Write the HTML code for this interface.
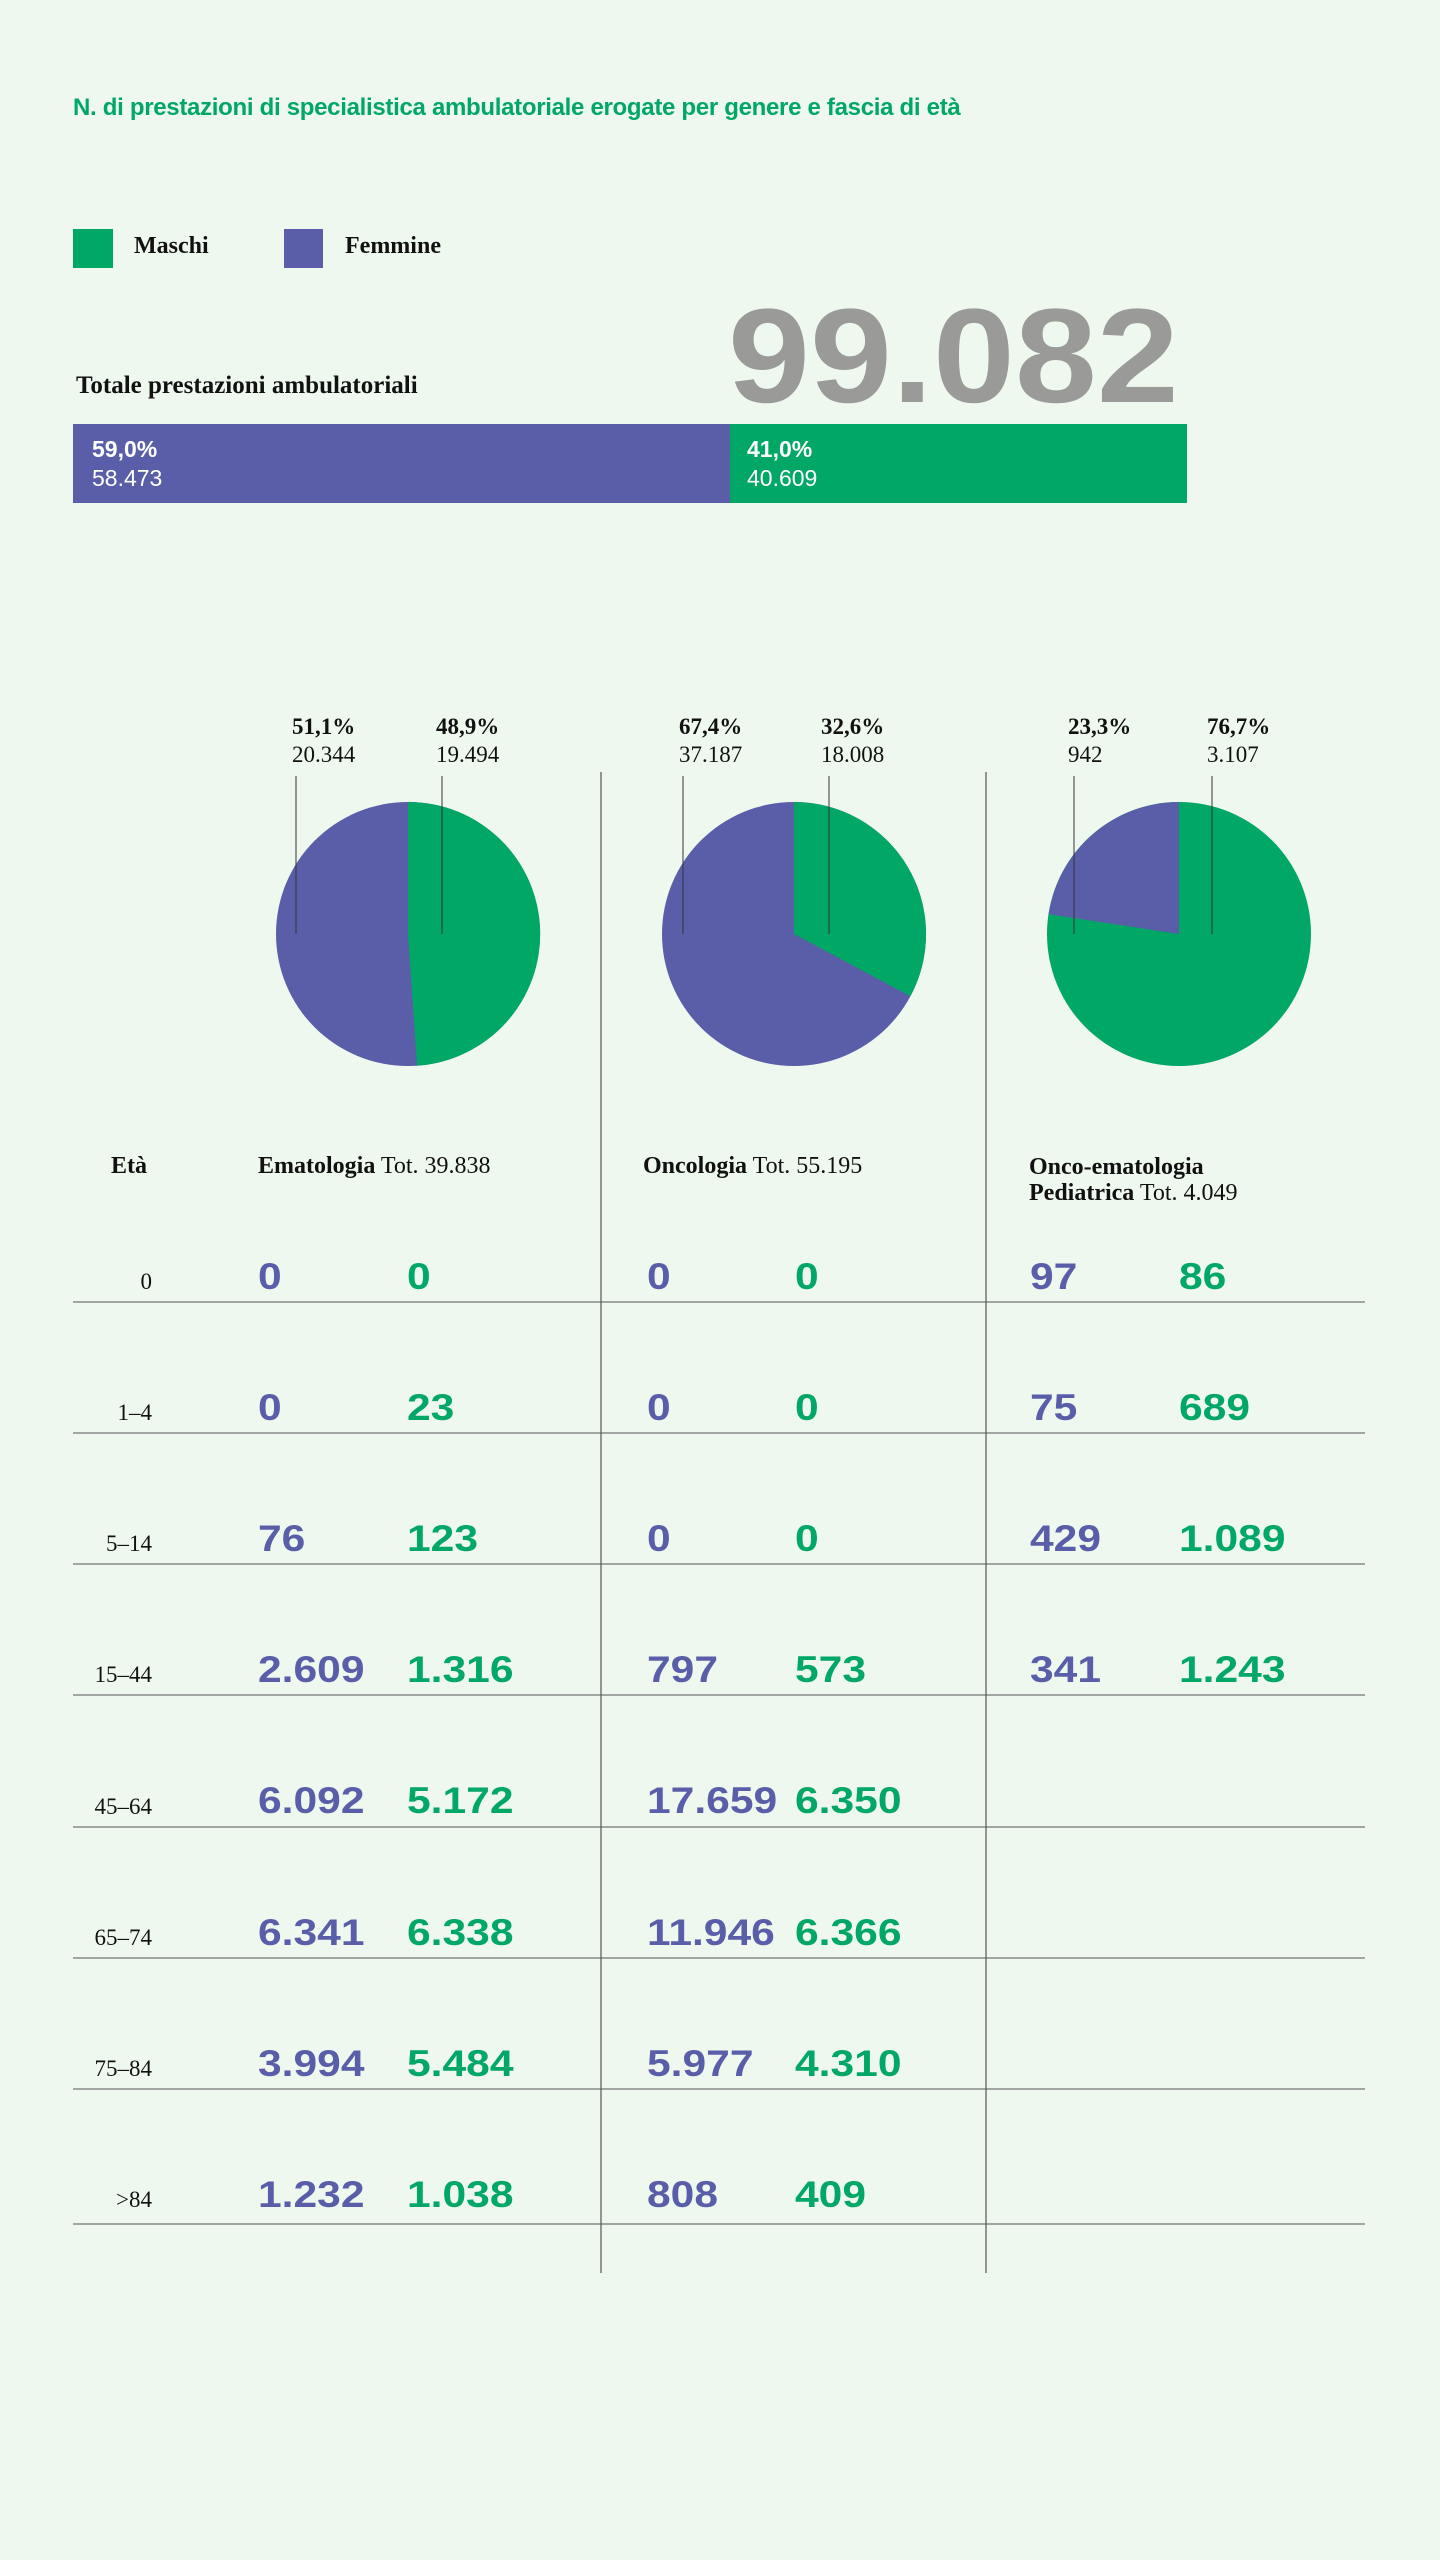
<!DOCTYPE html>
<html><head><meta charset="utf-8"><style>
*{margin:0;padding:0;box-sizing:border-box}
body{width:1440px;height:2560px;background:#eff8ef;position:relative;overflow:hidden;font-family:"Liberation Sans",sans-serif;color:#111}
.a{position:absolute;white-space:nowrap;line-height:1}
.s{font-family:"Liberation Serif",serif}
.b{font-weight:bold}
.n{position:absolute;white-space:nowrap;line-height:36px;font-family:"Liberation Sans",sans-serif;font-weight:bold;font-size:37px;transform:scaleX(1.15);transform-origin:left top}
.p{color:#5a5ea8}.g{color:#00a765}
.lbl{font-size:23px}
.age{font-size:23px;text-align:right;width:120px}
</style></head><body>
<div class="a b g" style="left:73px;top:96px;font-size:24px;letter-spacing:-0.3px">N. di prestazioni di specialistica ambulatoriale erogate per genere e fascia di età</div>
<div class="a" style="left:73px;top:229px;width:40px;height:39px;background:#00a765"></div>
<div class="a s b" style="left:134px;top:234px;font-size:24px">Maschi</div>
<div class="a" style="left:284px;top:229px;width:39px;height:39px;background:#5a5ea8"></div>
<div class="a s b" style="left:345px;top:234px;font-size:24px">Femmine</div>
<div class="a b" style="left:728px;top:290px;font-size:134px;color:#9a9b99;letter-spacing:0;transform:scaleX(1.1);transform-origin:left top">99.082</div>
<div class="a s b" style="left:76px;top:373px;font-size:25px">Totale prestazioni ambulatoriali</div>
<div class="a" style="left:73px;top:424px;width:657px;height:79px;background:#5a5ea8"></div>
<div class="a" style="left:730px;top:424px;width:457px;height:79px;background:#00a765"></div>
<div class="a" style="left:92px;top:435px;color:#fff;font-size:23px;line-height:29px"><b>59,0%</b><br>58.473</div>
<div class="a" style="left:747px;top:435px;color:#fff;font-size:23px;line-height:29px"><b>41,0%</b><br>40.609</div>

<svg class="a" style="left:0;top:0" width="1440" height="2560">
<g stroke="#333" stroke-width="1">
<line x1="601" y1="772" x2="601" y2="2273"/><line x1="986" y1="772" x2="986" y2="2273"/>
</g>
<circle cx="408" cy="934" r="132" fill="#5a5ea8"/>
<path d="M408 934 L408 802 A132 132 0 0 1 417.1 1065.7 Z" fill="#00a765"/>
<circle cx="794" cy="934" r="132" fill="#5a5ea8"/>
<path d="M794 934 L794 802 A132 132 0 0 1 910.4 996.3 Z" fill="#00a765"/>
<circle cx="1179" cy="934" r="132" fill="#00a765"/>
<path d="M1179 934 L1179 802 A132 132 0 0 0 1048.6 914.2 Z" fill="#5a5ea8"/>
<g stroke="#333" stroke-width="1">
<line x1="296" y1="776" x2="296" y2="934"/><line x1="442" y1="776" x2="442" y2="934"/>
<line x1="683" y1="776" x2="683" y2="934"/><line x1="829" y1="776" x2="829" y2="934"/>
<line x1="1074" y1="776" x2="1074" y2="934"/><line x1="1212" y1="776" x2="1212" y2="934"/>
</g>
<g stroke="#555" stroke-width="1">
<line x1="73" y1="1302" x2="1365" y2="1302"/><line x1="73" y1="1433" x2="1365" y2="1433"/>
<line x1="73" y1="1564" x2="1365" y2="1564"/><line x1="73" y1="1695" x2="1365" y2="1695"/>
<line x1="73" y1="1827" x2="1365" y2="1827"/><line x1="73" y1="1958" x2="1365" y2="1958"/>
<line x1="73" y1="2089" x2="1365" y2="2089"/><line x1="73" y1="2224" x2="1365" y2="2224"/>
</g>
</svg>

<div class="a s lbl" style="left:292px;top:713px;line-height:28px"><b>51,1%</b><br>20.344</div>
<div class="a s lbl" style="left:436px;top:713px;line-height:28px"><b>48,9%</b><br>19.494</div>
<div class="a s lbl" style="left:679px;top:713px;line-height:28px"><b>67,4%</b><br>37.187</div>
<div class="a s lbl" style="left:821px;top:713px;line-height:28px"><b>32,6%</b><br>18.008</div>
<div class="a s lbl" style="left:1068px;top:713px;line-height:28px"><b>23,3%</b><br>942</div>
<div class="a s lbl" style="left:1207px;top:713px;line-height:28px"><b>76,7%</b><br>3.107</div>

<div class="a s b" style="left:111px;top:1154px;font-size:24px">Età</div>
<div class="a s" style="left:258px;top:1154px;font-size:24px"><b>Ematologia</b> Tot. 39.838</div>
<div class="a s" style="left:643px;top:1154px;font-size:24px"><b>Oncologia</b> Tot. 55.195</div>
<div class="a s" style="left:1029px;top:1154px;font-size:24px;line-height:26px"><b>Onco-ematologia</b><br><b>Pediatrica</b> Tot. 4.049</div>

<div class="a s age" style="left:32px;top:1270px">0</div>
<div class="a s age" style="left:32px;top:1401px">1–4</div>
<div class="a s age" style="left:32px;top:1532px">5–14</div>
<div class="a s age" style="left:32px;top:1663px">15–44</div>
<div class="a s age" style="left:32px;top:1795px">45–64</div>
<div class="a s age" style="left:32px;top:1926px">65–74</div>
<div class="a s age" style="left:32px;top:2057px">75–84</div>
<div class="a s age" style="left:32px;top:2188px">&gt;84</div>

<div class="n p" style="left:258px;top:1259px">0</div><div class="n g" style="left:407px;top:1259px">0</div>
<div class="n p" style="left:647px;top:1259px">0</div><div class="n g" style="left:795px;top:1259px">0</div>
<div class="n p" style="left:1030px;top:1259px">97</div><div class="n g" style="left:1179px;top:1259px">86</div>
<div class="n p" style="left:258px;top:1390px">0</div><div class="n g" style="left:407px;top:1390px">23</div>
<div class="n p" style="left:647px;top:1390px">0</div><div class="n g" style="left:795px;top:1390px">0</div>
<div class="n p" style="left:1030px;top:1390px">75</div><div class="n g" style="left:1179px;top:1390px">689</div>
<div class="n p" style="left:258px;top:1521px">76</div><div class="n g" style="left:407px;top:1521px">123</div>
<div class="n p" style="left:647px;top:1521px">0</div><div class="n g" style="left:795px;top:1521px">0</div>
<div class="n p" style="left:1030px;top:1521px">429</div><div class="n g" style="left:1179px;top:1521px">1.089</div>
<div class="n p" style="left:258px;top:1652px">2.609</div><div class="n g" style="left:407px;top:1652px">1.316</div>
<div class="n p" style="left:647px;top:1652px">797</div><div class="n g" style="left:795px;top:1652px">573</div>
<div class="n p" style="left:1030px;top:1652px">341</div><div class="n g" style="left:1179px;top:1652px">1.243</div>
<div class="n p" style="left:258px;top:1783px">6.092</div><div class="n g" style="left:407px;top:1783px">5.172</div>
<div class="n p" style="left:647px;top:1783px">17.659</div><div class="n g" style="left:795px;top:1783px">6.350</div>
<div class="n p" style="left:258px;top:1915px">6.341</div><div class="n g" style="left:407px;top:1915px">6.338</div>
<div class="n p" style="left:647px;top:1915px">11.946</div><div class="n g" style="left:795px;top:1915px">6.366</div>
<div class="n p" style="left:258px;top:2046px">3.994</div><div class="n g" style="left:407px;top:2046px">5.484</div>
<div class="n p" style="left:647px;top:2046px">5.977</div><div class="n g" style="left:795px;top:2046px">4.310</div>
<div class="n p" style="left:258px;top:2177px">1.232</div><div class="n g" style="left:407px;top:2177px">1.038</div>
<div class="n p" style="left:647px;top:2177px">808</div><div class="n g" style="left:795px;top:2177px">409</div>
</body></html>
